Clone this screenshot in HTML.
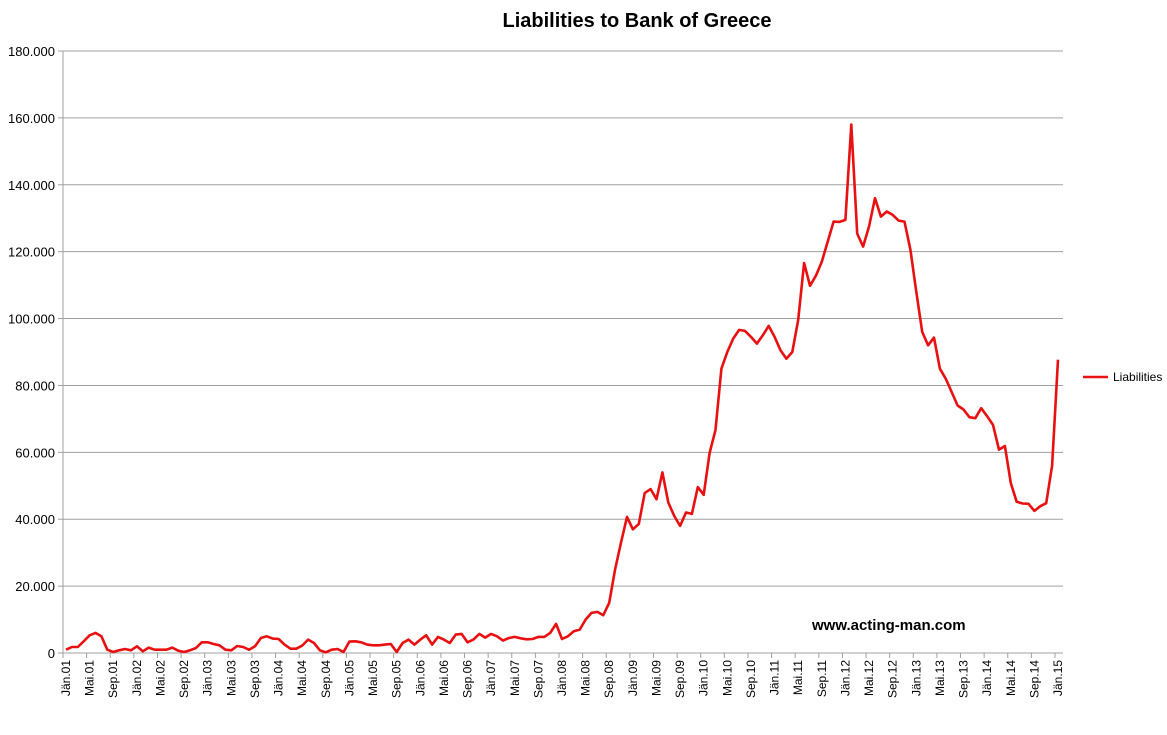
<!DOCTYPE html>
<html><head><meta charset="utf-8">
<style>
body{margin:0;background:#fff;}
svg text{font-family:"Liberation Sans",Arial,sans-serif;}
</style></head>
<body>
<svg id="chart" width="1167" height="730" viewBox="0 0 1167 730" xmlns="http://www.w3.org/2000/svg">
<rect width="1167" height="730" fill="#fff"/>
<text x="637" y="27" text-anchor="middle" font-size="20" font-weight="bold" fill="#000">Liabilities to Bank of Greece</text>
<g id="grid"></g>
<g id="yticks"></g>
<g id="xticks"></g>
<path id="line" fill="none" stroke="#e81010" stroke-width="2.6" stroke-linejoin="round"/>
<text x="812" y="630" font-size="15" font-weight="bold" fill="#000">www.acting-man.com</text>
<g>
<line x1="1083" y1="377" x2="1108" y2="377" stroke="#e81010" stroke-width="2.6"/>
<text x="1113" y="381" font-size="12" fill="#000">Liabilities</text>
</g>
</svg>
<script>
const yTicks=[0,20000,40000,60000,80000,100000,120000,140000,160000,180000];
const yTickLabels=["0","20.000","40.000","60.000","80.000","100.000","120.000","140.000","160.000","180.000"];
const monthNames=["Jän","Mai","Sep"];
const values=[
1,1.8,1.8,3.5,5.3,6,5,1,0.3,0.8,1.2,0.8,
2,0.5,1.6,1,1,1,1.6,0.7,0.3,0.8,1.5,3.2,
3.2,2.7,2.3,1,0.8,2.1,1.8,1,2,4.5,5,4.3,
4.2,2.5,1.3,1.3,2.2,4,3,0.8,0.2,1,1.2,0.3,
3.4,3.5,3.2,2.5,2.3,2.3,2.5,2.7,0.3,3,4,2.5,
4,5.3,2.5,4.8,4,3,5.5,5.7,3.2,4,5.7,4.6,
5.7,5,3.7,4.5,4.8,4.4,4.1,4.2,4.8,4.8,6,8.7,
4.2,5,6.5,7,10,12,12.3,11.3,15,25,33,40.7,
37,38.6,47.8,49,46,54,45,41,38,42,41.6,49.6,
47.3,59.8,66.7,85,90,94,96.6,96.3,94.5,92.5,95,97.8,
94.5,90.5,88,90,99.6,116.6,109.8,112.8,117,123,129,128.9,
129.5,158,125.4,121.5,127.5,136,130.5,132,131,129.3,129,120.6,
108,96,92,94.3,85,82,78,74,72.8,70.5,70.2,73.2,
70.8,68.2,60.8,61.9,50.8,45.2,44.7,44.6,42.5,43.9,44.8,56,
87.7];
const X0=66,X1=1058,Y0=653,Y1=51,YMAX=180000;
const ns="http://www.w3.org/2000/svg";
function xs(i){return X0+(X1-X0)*i/(values.length-1);}
function ys(v){return Y0-(Y0-Y1)*v/YMAX;}
const grid=document.getElementById('grid'),yt=document.getElementById('yticks'),xt=document.getElementById('xticks');
yTicks.forEach((t,k)=>{
  const y=ys(t);
  if(t>0){const l=document.createElementNS(ns,'line');
  
  
  l.setAttribute('x1',63);l.setAttribute('x2',1063);l.setAttribute('y1',y);l.setAttribute('y2',y);
  l.setAttribute('stroke','#a0a0a0');l.setAttribute('stroke-width','1');grid.appendChild(l);}
  const tk=document.createElementNS(ns,'line');
  
  
  tk.setAttribute('x1',58);tk.setAttribute('x2',63);tk.setAttribute('y1',y);tk.setAttribute('y2',y);tk.setAttribute('stroke','#a0a0a0');yt.appendChild(tk);
  const tx=document.createElementNS(ns,'text');
  
  
  tx.setAttribute('x',55);tx.setAttribute('y',y+5);tx.setAttribute('text-anchor','end');tx.setAttribute('font-size','13');
  tx.textContent=yTickLabels[k];yt.appendChild(tx);
});
const ax=document.createElementNS(ns,'line');


ax.setAttribute('x1',63);ax.setAttribute('x2',63);ax.setAttribute('y1',Y1);ax.setAttribute('y2',Y0);ax.setAttribute('stroke','#a0a0a0');grid.appendChild(ax);
const bx=document.createElementNS(ns,'line');


bx.setAttribute('x1',63);bx.setAttribute('x2',1063);bx.setAttribute('y1',Y0);bx.setAttribute('y2',Y0);bx.setAttribute('stroke','#a0a0a0');grid.appendChild(bx);
for(let i=0;i<values.length;i+=4){
  const x=xs(i);
  const tk=document.createElementNS(ns,'line');
  
  
  tk.setAttribute('x1',x-3);tk.setAttribute('x2',x-3);tk.setAttribute('y1',Y0);tk.setAttribute('y2',Y0+5);tk.setAttribute('stroke','#a0a0a0');xt.appendChild(tk);
  const yr=String(1+Math.floor(i/12)).padStart(2,'0');
  const tx=document.createElementNS(ns,'text');
  
  
  tx.setAttribute('font-size','12');tx.setAttribute('text-anchor','end');
  tx.setAttribute('transform','translate('+(x+4)+',660) rotate(-90)');
  tx.textContent=monthNames[(i%12)/4]+'.'+yr;xt.appendChild(tx);
}
document.getElementById('line').setAttribute('d',values.map((v,i)=>(i?'L':'M')+xs(i).toFixed(1)+','+ys(v*1000).toFixed(1)).join(''));
</script>
</body></html>
